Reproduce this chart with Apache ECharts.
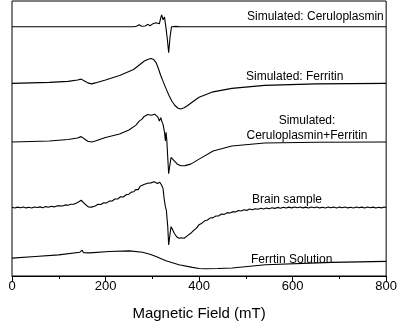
<!DOCTYPE html>
<html lang="en">
<head>
	<meta charset="UTF-8">
	<title>EPR spectra</title>
	<style>
	body, div {
		margin: 0;
		padding: 0;
	}
	.echart {
		width: 400px;
		height: 326px;
	}
	</style>
</head>
<body>
	<div id="echart" class="echart"></div>

	<script src="https://cdn.jsdelivr.net/npm/echarts@6/dist/echarts.min.js"></script>

	<script>

	// x ticks (mT)
	var xTicks = [0, 200, 400, 600, 800];

	// trace names, top to bottom
	var traceNames = ['Simulated: Ceruloplasmin', 'Simulated: Ferritin', 'Simulated:\nCeruloplasmin+Ferritin', 'Brain sample', 'Ferrtin Solution'];

	// vertical offset of each trace (arb. units)
	var offsets = [251, 194, 135, 69, 18];

	// [field mT, signal]
	var ceruloplasmin = [[0,0],[260,0],[266,0.5],[272,2],[277,0.5],[281,2],[285,0.8],[290,2.5],[295,1],[301,3],[304,1.5],[308,4],[311,6],[315,3],[318,9],[320,12],[323,7],[326,10],[329,0],[332,-12],[335,-26],[338,-10],[341,0],[345,0.8],[350,0.4],[360,0.1],[800,0]];

	var ferritin = [[0,0],[40,0.5],[80,1],[120,2],[140,3.5],[148,4.3],[155,2.5],[162,0.5],[170,-0.5],[178,0.5],[200,3.5],[230,8],[260,14],[283,22.6],[290,24],[297,25],[303,24],[308,21],[313,15],[318,8],[323,2],[330,-6],[336,-12.5],[342,-18],[348,-22],[355,-25],[361,-25.7],[368,-24.5],[375,-22.5],[385,-19],[400,-14],[430,-8.5],[470,-5],[540,-2],[650,-0.5],[800,0]];

	var combined = [[0,0],[40,0.5],[80,1],[120,2.5],[140,4],[148,5.4],[155,3],[162,0.8],[170,0],[178,1],[200,4.5],[230,8],[250,12],[265,17],[272,21],[278,23],[282,25.5],[286,24.5],[290,27.7],[294,26.5],[298,27],[302,26],[305,28],[308,27.5],[312,25],[315,21],[318,24.4],[321,20],[323,17.7],[326,10],[328,1],[329.5,9.7],[331,2],[332,-7],[335,-32],[337,-25],[340,-15.6],[343,-16.5],[347,-19],[354,-22.5],[361,-24],[370,-23.8],[382,-22.3],[400,-17.3],[430,-9],[470,-4],[540,-1],[650,-0.3],[800,0]];

	var brain = [[0,0.3],[6,-0.5],[12,0.4],[18,-0.3],[24,0.6],[30,-0.4],[36,0.2],[42,-0.6],[48,0.5],[54,0],[60,0.6],[66,-0.2],[72,0.9],[78,0.3],[84,1.2],[90,0.6],[96,1.6],[102,1.8],[108,1.5],[114,2.6],[120,2.2],[126,3.2],[132,3.3],[138,4.6],[143,5.8],[148,7.3],[152,5.5],[156,3.5],[160,2.2],[163,0.6],[166,1],[170,0.4],[174,2],[178,1.6],[184,3.2],[190,3],[196,4.8],[202,4.6],[208,6.4],[214,6.6],[220,8.5],[226,8.6],[232,10.8],[238,10.6],[244,12.8],[250,13.4],[255,15.5],[260,15.8],[265,18.2],[270,18],[274,21.5],[278,20.5],[282,23.2],[286,21.8],[290,24.5],[293,22.8],[297,24.8],[300,23.6],[304,26],[308,26.3],[311,24.2],[313,23],[316,25.5],[318,25],[320,22.4],[323,19],[325,10],[328,0.7],[330,-2.7],[333,-19],[335,-37.7],[337,-30],[340,-19.3],[343,-22],[347,-26],[352,-29.5],[357,-31],[362,-30.4],[368,-31],[374,-28.8],[382,-26],[388,-23.2],[394,-21],[400,-17.3],[406,-15.8],[412,-13.4],[418,-12.6],[424,-10.5],[430,-10.2],[436,-8.5],[442,-8.4],[448,-6.6],[454,-6.9],[460,-5.2],[466,-5.6],[472,-4.2],[478,-4.6],[484,-3.1],[490,-3.5],[496,-2.3],[502,-2.9],[508,-1.6],[514,-2.3],[520,-1.2],[526,-1.8],[532,-0.8],[538,-1.5],[544,-0.6],[550,-1.2],[556,-0.3],[562,-0.9],[568,0.1],[574,-0.7],[580,0.3],[586,-0.5],[592,0.4],[598,-0.4],[604,0.5],[610,-0.3],[616,0.6],[622,-0.4],[628,0.4],[634,-0.5],[640,0.5],[646,-0.3],[652,0.6],[658,-0.4],[664,0.3],[670,-0.5],[676,0.5],[682,-0.3],[688,0.4],[694,-0.6],[700,0.4],[706,-0.3],[712,0.6],[718,-0.4],[724,0.3],[730,-0.5],[736,0.5],[742,-0.3],[748,0.4],[754,-0.5],[760,0.6],[766,-0.3],[772,0.4],[778,-0.5],[784,0.3],[790,-0.4],[796,0.5],[800,0]];

	var solution = [[0,0],[50,1.7],[100,3.3],[145,6],[150,8],[153,5.5],[156,4],[166,5.3],[208,6.7],[251,7.3],[279,6],[295,4],[308,1.7],[329,-2.7],[357,-6.7],[386,-9.3],[400,-10.5],[414,-10.7],[440,-10.5],[471,-10],[542,-6.7],[684,-4.3],[800,-3.3]];

	var traces = [ceruloplasmin, ferritin, combined, brain, solution];

	var font = '"Liberation Sans", Arial, sans-serif';

	// shift each trace by its offset
	var _series = [];
	for (var i = 0; i < traces.length; i++) {
		var _data = [];
		for (var d = 0; d < traces[i].length; d++) {
			_data.push([traces[i][d][0], traces[i][d][1] + offsets[i]]);
		}
		_series.push({
			name: traceNames[i],
			type: 'line',
			showSymbol: false,
			symbol: 'none',
			lineStyle: { color: '#000', width: 1.1 },
			data: _data
		});
	}

	// trace labels
	var labelPos = [[247, 17, 'left'], [246, 77, 'left'], [307, 128, 'center'], [252, 200, 'left'], [251, 260, 'left']];
	var _graphic = [];
	for (var i = 0; i < traceNames.length; i++) {
		_graphic.push({
			type: 'text',
			x: labelPos[i][0],
			y: labelPos[i][1],
			style: {
				text: traceNames[i],
				fill: '#000',
				font: '12px ' + font,
				textAlign: labelPos[i][2],
				textVerticalAlign: 'middle',
				lineHeight: 15
			}
		});
	}

	var option = {
		animation: false,
		grid: {
			left: 12,
			right: 12,
			top: 1,
			bottom: 48,
			show: true,
			borderColor: '#000',
			borderWidth: 1
		},
		xAxis: {
			type: 'value',
			min: xTicks[0],
			max: xTicks[xTicks.length - 1],
			interval: 200,
			name: 'Magnetic Field (mT)',
			nameLocation: 'middle',
			nameGap: 30,
			nameTextStyle: { fontSize: 15, color: '#000', fontFamily: font },
			axisLine: { lineStyle: { color: '#000', width: 1 } },
			axisTick: { length: 5, lineStyle: { color: '#000' } },
			minorTick: { show: true, splitNumber: 2, length: 3, lineStyle: { color: '#000' } },
			axisLabel: { fontSize: 13, color: '#000', fontFamily: font, margin: 4 },
			splitLine: { show: false }
		},
		yAxis: {
			type: 'value',
			min: 0,
			max: 277,
			axisLine: { show: false },
			axisTick: { show: false },
			axisLabel: { show: false },
			splitLine: { show: false }
		},
		graphic: _graphic,
		series: _series
	};

	var myEcharts = echarts.init(document.getElementById('echart'));
	myEcharts.setOption(option);

	</script>
</body>
</html>
